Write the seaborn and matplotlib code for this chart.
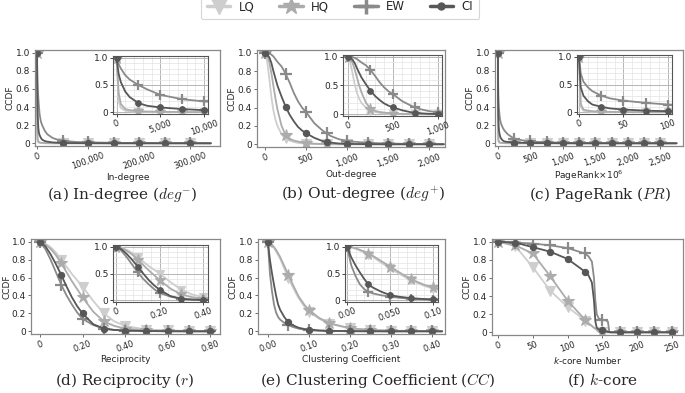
import numpy as np
import matplotlib
matplotlib.use("Agg")
import matplotlib.pyplot as plt
import seaborn as sns
from matplotlib.ticker import AutoMinorLocator
from matplotlib.lines import Line2D

sns.set_style("ticks")
plt.rcParams['font.family'] = ['DejaVu Sans']

# --------------------------------------------------
# series style
# --------------------------------------------------
SERIES = ["LQ", "HQ", "EW", "CI"]
COLORS = {"LQ": "#cecece", "HQ": "#acacac", "EW": "#8a8a8a", "CI": "#575757"}
MARKERS = {"LQ": "v", "HQ": "*", "EW": "+", "CI": "o"}
MSIZE = {"LQ": 7, "HQ": 9, "EW": 8, "CI": 4.5}

# --------------------------------------------------
# (a) In-degree
# --------------------------------------------------
indeg_x = [0, 250, 500, 1000, 1500, 2500, 3500, 5000, 7500, 10000, 15000, 20000, 30000,
           40000, 50000, 75000, 100000, 150000, 200000, 250000, 300000, 340000]
indeg_lq = [1.0, 0.2, 0.08, 0.03, 0.02, 0.01, 0.007, 0.005, 0.003, 0.002, 0.001, 0.0005, 0,
            0, 0, 0, 0, 0, 0, 0, 0, 0]
indeg_hq = [1.0, 0.35, 0.15, 0.06, 0.04, 0.02, 0.015, 0.01, 0.006, 0.004, 0.002, 0.001, 0.0005,
            0, 0, 0, 0, 0, 0, 0, 0, 0]
indeg_ew = [1.0, 0.88, 0.8, 0.68, 0.6, 0.5, 0.42, 0.32, 0.24, 0.2, 0.14, 0.1, 0.06,
            0.04, 0.03, 0.015, 0.01, 0.005, 0.003, 0.002, 0.001, 0.0]
indeg_ci = [1.0, 0.7, 0.55, 0.38, 0.28, 0.17, 0.12, 0.09, 0.06, 0.04, 0.025, 0.018, 0.01,
            0.006, 0.004, 0.002, 0.001, 0.0005, 0, 0, 0, 0]
indeg_marks = [0, 50000, 100000, 150000, 200000, 250000, 300000]
indeg_inset_marks = [0, 2500, 5000, 7500, 10000]
indeg_ticks = [0, 100000, 200000, 300000]
indeg_ticklabels = ["0", "100,000", "200,000", "300,000"]
indeg_inset_ticks = [0, 5000, 10000]
indeg_inset_ticklabels = ["0", "5,000", "10,000"]

# --------------------------------------------------
# (b) Out-degree
# --------------------------------------------------
outdeg_x = [0, 25, 50, 75, 100, 125, 150, 200, 250, 300, 350, 400, 450, 500, 600, 700, 750,
            800, 900, 1000, 1250, 1500, 1750, 2000, 2180]
outdeg_lq = [1.0, 0.9, 0.72, 0.52, 0.37, 0.27, 0.2, 0.11, 0.065, 0.04, 0.025, 0.015, 0.01, 0.006,
             0.003, 0.001, 0.001, 0, 0, 0, 0, 0, 0, 0, 0]
outdeg_hq = [1.0, 0.97, 0.9, 0.78, 0.64, 0.5, 0.38, 0.2, 0.1, 0.06, 0.04, 0.03, 0.02, 0.012,
             0.006, 0.003, 0.002, 0.001, 0, 0, 0, 0, 0, 0, 0]
outdeg_ew = [1.0, 0.995, 0.99, 0.98, 0.96, 0.93, 0.9, 0.85, 0.77, 0.67, 0.56, 0.47, 0.4, 0.35,
             0.23, 0.15, 0.12, 0.09, 0.055, 0.035, 0.015, 0.008, 0.004, 0.002, 0.0]
outdeg_ci = [1.0, 0.98, 0.95, 0.89, 0.8, 0.72, 0.64, 0.52, 0.41, 0.32, 0.25, 0.19, 0.15, 0.12,
             0.07, 0.035, 0.025, 0.018, 0.008, 0.004, 0.001, 0, 0, 0, 0]
outdeg_marks = [0, 250, 500, 750, 1000, 1250, 1500, 1750, 2000]
outdeg_inset_marks = [0, 250, 500, 750, 1000]
outdeg_ticks = [0, 500, 1000, 1500, 2000]
outdeg_ticklabels = ["0", "500", "1,000", "1,500", "2,000"]
outdeg_inset_ticks = [0, 500, 1000]
outdeg_inset_ticklabels = ["0", "500", "1,000"]

# --------------------------------------------------
# (c) PageRank x 10^6
# --------------------------------------------------
pr_x = [0, 2, 5, 10, 15, 25, 35, 50, 75, 100, 150, 250, 400, 500, 750, 1000, 1250, 1500,
        1750, 2000, 2250, 2500, 2750]
pr_lq = [1.0, 0.1, 0.03, 0.015, 0.01, 0.005, 0.004, 0.003, 0.002, 0.001, 0, 0, 0, 0, 0, 0, 0,
         0, 0, 0, 0, 0, 0]
pr_hq = [1.0, 0.15, 0.05, 0.03, 0.02, 0.01, 0.008, 0.005, 0.003, 0.002, 0.001, 0, 0, 0, 0, 0,
         0, 0, 0, 0, 0, 0, 0]
pr_ew = [1.0, 0.7, 0.55, 0.45, 0.38, 0.3, 0.25, 0.21, 0.17, 0.14, 0.1, 0.05, 0.03, 0.02, 0.01,
         0.006, 0.004, 0.003, 0.002, 0.001, 0.001, 0, 0]
pr_ci = [1.0, 0.45, 0.3, 0.2, 0.14, 0.1, 0.07, 0.05, 0.03, 0.02, 0.015, 0.008, 0.005, 0.003,
         0.002, 0.001, 0, 0, 0, 0, 0, 0, 0]
pr_marks = [0, 250, 500, 750, 1000, 1250, 1500, 1750, 2000, 2250, 2500]
pr_inset_marks = [0, 25, 50, 75, 100]
pr_ticks = [0, 500, 1000, 1500, 2000, 2500]
pr_ticklabels = ["0", "500", "1,000", "1,500", "2,000", "2,500"]
pr_inset_ticks = [0, 50, 100]
pr_inset_ticklabels = ["0", "50", "100"]

# --------------------------------------------------
# (d) Reciprocity
# --------------------------------------------------
rec_x = [0, 0.025, 0.05, 0.075, 0.1, 0.125, 0.15, 0.175, 0.2, 0.25, 0.3, 0.35, 0.4, 0.5,
         0.6, 0.7, 0.8, 0.82]
rec_lq = [1.0, 0.98, 0.94, 0.88, 0.8, 0.72, 0.64, 0.57, 0.5, 0.34, 0.2, 0.11, 0.06, 0.02,
          0.01, 0.005, 0.003, 0]
rec_hq = [1.0, 0.97, 0.92, 0.85, 0.76, 0.66, 0.56, 0.47, 0.38, 0.22, 0.11, 0.06, 0.03, 0.01,
          0.005, 0.002, 0.001, 0]
rec_ew = [1.0, 0.92, 0.8, 0.66, 0.52, 0.4, 0.3, 0.21, 0.14, 0.07, 0.03, 0.015, 0.008, 0.003,
          0.001, 0, 0, 0]
rec_ci = [1.0, 0.95, 0.86, 0.75, 0.63, 0.5, 0.38, 0.28, 0.2, 0.08, 0.03, 0.015, 0.008, 0.003,
          0.001, 0, 0, 0]
rec_marks = [0, 0.1, 0.2, 0.3, 0.4, 0.5, 0.6, 0.7, 0.8]
rec_inset_marks = [0, 0.1, 0.2, 0.3, 0.4]
rec_ticks = [0, 0.2, 0.4, 0.6, 0.8]
rec_ticklabels = ["0", "0.20", "0.40", "0.60", "0.80"]
rec_inset_ticks = [0, 0.2, 0.4]
rec_inset_ticklabels = ["0", "0.20", "0.40"]

# --------------------------------------------------
# (e) Clustering coefficient
# --------------------------------------------------
cc_x = [0, 0.005, 0.01, 0.015, 0.02, 0.025, 0.03, 0.04, 0.05, 0.06, 0.075, 0.09, 0.1, 0.125,
        0.15, 0.2, 0.25, 0.3, 0.35, 0.4, 0.425]
cc_lq = [1.0, 0.99, 0.96, 0.93, 0.89, 0.85, 0.81, 0.7, 0.6, 0.5, 0.37, 0.27, 0.22, 0.14,
         0.085, 0.032, 0.013, 0.006, 0.003, 0.002, 0]
cc_hq = [1.0, 0.99, 0.97, 0.94, 0.91, 0.87, 0.83, 0.73, 0.63, 0.53, 0.39, 0.29, 0.24, 0.15,
         0.09, 0.035, 0.015, 0.007, 0.004, 0.002, 0]
cc_ew = [1.0, 0.65, 0.45, 0.3, 0.21, 0.16, 0.13, 0.095, 0.07, 0.05, 0.03, 0.017, 0.012, 0.006,
         0.003, 0.001, 0, 0, 0, 0, 0]
cc_ci = [1.0, 0.8, 0.65, 0.52, 0.4, 0.3, 0.24, 0.16, 0.1, 0.07, 0.04, 0.025, 0.02, 0.01,
         0.005, 0.002, 0.001, 0, 0, 0, 0]
cc_marks = [0, 0.05, 0.1, 0.15, 0.2, 0.25, 0.3, 0.35, 0.4]
cc_inset_marks = [0, 0.025, 0.05, 0.075, 0.1]
cc_ticks = [0, 0.1, 0.2, 0.3, 0.4]
cc_ticklabels = ["0.00", "0.10", "0.20", "0.30", "0.40"]
cc_inset_ticks = [0, 0.05, 0.1]
cc_inset_ticklabels = ["0.00", "0.050", "0.10"]

# --------------------------------------------------
# (f) k-core
# --------------------------------------------------
kc_x = [0, 25, 50, 75, 100, 125, 130, 135, 138, 140, 142, 145, 150, 155, 158, 160, 162, 175,
        200, 225, 250]
kc_lq = [1.0, 0.95, 0.72, 0.46, 0.28, 0.13, 0.1, 0.07, 0.05, 0.04, 0.03, 0.01, 0.0, 0, 0, 0,
         0, 0, 0, 0, 0]
kc_hq = [1.0, 0.96, 0.87, 0.62, 0.35, 0.14, 0.1, 0.07, 0.05, 0.04, 0.03, 0.015, 0.005, 0, 0,
         0, 0, 0, 0, 0, 0]
kc_ew = [1.0, 0.99, 0.98, 0.96, 0.93, 0.87, 0.84, 0.78, 0.6, 0.35, 0.2, 0.15, 0.14, 0.13,
         0.12, 0.01, 0.0, 0, 0, 0, 0]
kc_ci = [1.0, 0.99, 0.94, 0.89, 0.81, 0.67, 0.63, 0.55, 0.35, 0.12, 0.05, 0.03, 0.02, 0.01,
         0.005, 0.002, 0, 0, 0, 0, 0]
kc_marks = [0, 25, 50, 75, 100, 125, 150, 175, 200, 225, 250]
kc_ticks = [0, 50, 100, 150, 200, 250]
kc_ticklabels = ["0", "50", "100", "150", "200", "250"]

CCDF_TICKS = [0, 0.2, 0.4, 0.6, 0.8, 1.0]
CCDF_LABELS = ["0", "0.2", "0.4", "0.6", "0.8", "1.0"]
INSET_Y_TICKS = [0, 0.5, 1.0]
INSET_Y_LABELS = ["0", "0.5", "1.0"]

# --------------------------------------------------
# figure
# --------------------------------------------------
W, H = 685, 393
fig = plt.figure(figsize=(W / 100, H / 100), dpi=100)


def box(l, t, r, b):
    return [l / W, 1 - b / H, (r - l) / W, (b - t) / H]


def draw(ax, x, curves, marks, ms=1.0):
    xs = np.asarray(x, dtype=float)
    idx = [i for i, v in enumerate(xs) if np.any(np.isclose(v, marks))]
    for s in SERIES:
        sns.lineplot(x=x, y=curves[s], ax=ax, color=COLORS[s], marker=MARKERS[s],
                     markevery=idx, markersize=MSIZE[s] * ms, markeredgecolor=COLORS[s],
                     markeredgewidth=1.6 if s == "EW" else 0.8, linewidth=1.3,
                     estimator=None, sort=False)


def style_main(ax, xlim, ticks, labels, xlabel):
    ax.set_xlim(*xlim)
    ax.set_ylim(-0.03, 1.03)
    ax.set_xticks(ticks)
    ax.set_xticklabels(labels, rotation=20, fontsize=6)
    ax.set_yticks(CCDF_TICKS)
    ax.set_yticklabels(CCDF_LABELS, fontsize=6.5)
    ax.set_xlabel(xlabel, fontsize=6.5, labelpad=1)
    ax.set_ylabel("CCDF", fontsize=6.5, labelpad=1)
    ax.tick_params(length=2.5, width=0.6, pad=1.2, color="#555555")
    for sp in ax.spines.values():
        sp.set_color("#888888")
        sp.set_linewidth(0.9)


def style_inset(ax, xlim, ticks, labels):
    ax.set_xlim(*xlim)
    ax.set_ylim(-0.03, 1.03)
    ax.set_xticks(ticks)
    ax.set_xticklabels(labels, rotation=20, fontsize=6)
    ax.set_yticks(INSET_Y_TICKS)
    ax.set_yticklabels(INSET_Y_LABELS, fontsize=6.5)
    ax.xaxis.set_minor_locator(AutoMinorLocator(5))
    ax.yaxis.set_minor_locator(AutoMinorLocator(5))
    ax.grid(which="major", color="#b5b5b5", linewidth=0.7)
    ax.grid(which="minor", color="#e3e3e3", linewidth=0.5)
    ax.set_axisbelow(True)
    ax.set_xlabel("")
    ax.set_ylabel("")
    ax.tick_params(which="major", length=2, width=0.6, pad=1.2)
    ax.tick_params(which="minor", length=0)
    for sp in ax.spines.values():
        sp.set_color("#555555")
        sp.set_linewidth(0.8)


panels = [
    dict(x=indeg_x, c=dict(LQ=indeg_lq, HQ=indeg_hq, EW=indeg_ew, CI=indeg_ci),
         marks=indeg_marks, ticks=indeg_ticks, labels=indeg_ticklabels,
         xlabel="In-degree", pos=(35, 50, 220, 146), xlim=(-4000, 358000),
         inset=dict(pos=(113, 56, 208, 114), xlim=(-400, 10450), marks=indeg_inset_marks,
                    ticks=indeg_inset_ticks, labels=indeg_inset_ticklabels)),
    dict(x=outdeg_x, c=dict(LQ=outdeg_lq, HQ=outdeg_hq, EW=outdeg_ew, CI=outdeg_ci),
         marks=outdeg_marks, ticks=outdeg_ticks, labels=outdeg_ticklabels,
         xlabel="Out-degree", pos=(257, 50, 445, 147), xlim=(-100, 2195),
         inset=dict(pos=(343, 55, 442, 116), xlim=(-55, 1045), marks=outdeg_inset_marks,
                    ticks=outdeg_inset_ticks, labels=outdeg_inset_ticklabels)),
    dict(x=pr_x, c=dict(LQ=pr_lq, HQ=pr_hq, EW=pr_ew, CI=pr_ci),
         marks=pr_marks, ticks=pr_ticks, labels=pr_ticklabels,
         xlabel="PageRank×10$^6$", pos=(495, 50, 683, 146), xlim=(-46, 2850),
         inset=dict(pos=(577, 55, 672, 114), xlim=(-2.2, 104.5), marks=pr_inset_marks,
                    ticks=pr_inset_ticks, labels=pr_inset_ticklabels)),
    dict(x=rec_x, c=dict(LQ=rec_lq, HQ=rec_hq, EW=rec_ew, CI=rec_ci),
         marks=rec_marks, ticks=rec_ticks, labels=rec_ticklabels,
         xlabel="Reciprocity", pos=(31, 239, 220, 334), xlim=(-0.042, 0.846),
         inset=dict(pos=(113, 245, 208, 302), xlim=(-0.014, 0.423), marks=rec_inset_marks,
                    ticks=rec_inset_ticks, labels=rec_inset_ticklabels)),
    dict(x=cc_x, c=dict(LQ=cc_lq, HQ=cc_hq, EW=cc_ew, CI=cc_ci),
         marks=cc_marks, ticks=cc_ticks, labels=cc_ticklabels,
         xlabel="Clustering Coefficient", pos=(258, 239, 445, 334), xlim=(-0.024, 0.432),
         inset=dict(pos=(345, 245, 438, 302), xlim=(-0.0023, 0.106), marks=cc_inset_marks,
                    ticks=cc_inset_ticks, labels=cc_inset_ticklabels)),
    dict(x=kc_x, c=dict(LQ=kc_lq, HQ=kc_hq, EW=kc_ew, CI=kc_ci),
         marks=kc_marks, ticks=kc_ticks, labels=kc_ticklabels,
         xlabel="$k$-core Number", pos=(492, 239, 683, 335), xlim=(-8.6, 266),
         inset=None),
]

for p in panels:
    ax = fig.add_axes(box(*p["pos"]))
    draw(ax, p["x"], p["c"], p["marks"])
    style_main(ax, p["xlim"], p["ticks"], p["labels"], p["xlabel"])
    if p["pos"][0] < 32:
        ax.yaxis.labelpad = 0
    ins = p["inset"]
    if ins is not None:
        axi = fig.add_axes(box(*ins["pos"]))
        draw(axi, p["x"], p["c"], ins["marks"], ms=0.9)
        style_inset(axi, ins["xlim"], ins["ticks"], ins["labels"])

# captions
captions = [
    (122, 194, r"(a) In-degree ($deg$$^{-}$)"),
    (363, 194, r"(b) Out-degree ($deg^{+}$)"),
    (600, 194, r"(c) PageRank ($PR$)"),
    (125, 380, r"(d) Reciprocity ($r$)"),
    (378, 380, r"(e) Clustering Coefficient ($CC$)"),
    (602, 380, r"(f) $k$-core"),
]
for cx, cy, txt in captions:
    fig.text(cx / W, 1 - cy / H, txt, ha="center", va="center", fontsize=11,
             family="DejaVu Serif", math_fontfamily="cm")

# legend
handles = [Line2D([], [], color=COLORS[s], marker=MARKERS[s], lw=2.5,
                  markersize={"LQ": 11, "HQ": 12, "EW": 11, "CI": 5}[s],
                  markeredgecolor=COLORS[s], markeredgewidth=2.5 if s == "EW" else 1)
           for s in SERIES]
leg = fig.legend(handles, SERIES, loc="center", bbox_to_anchor=(340 / W, 1 - 7 / H),
                 ncol=4, fontsize=8.5, frameon=True, handlelength=2.0, columnspacing=2.1,
                 handletextpad=0.7, borderpad=0.5)
leg.get_frame().set_edgecolor("#cccccc")
leg.get_frame().set_linewidth(0.8)

plt.savefig("out.png", dpi=100)
